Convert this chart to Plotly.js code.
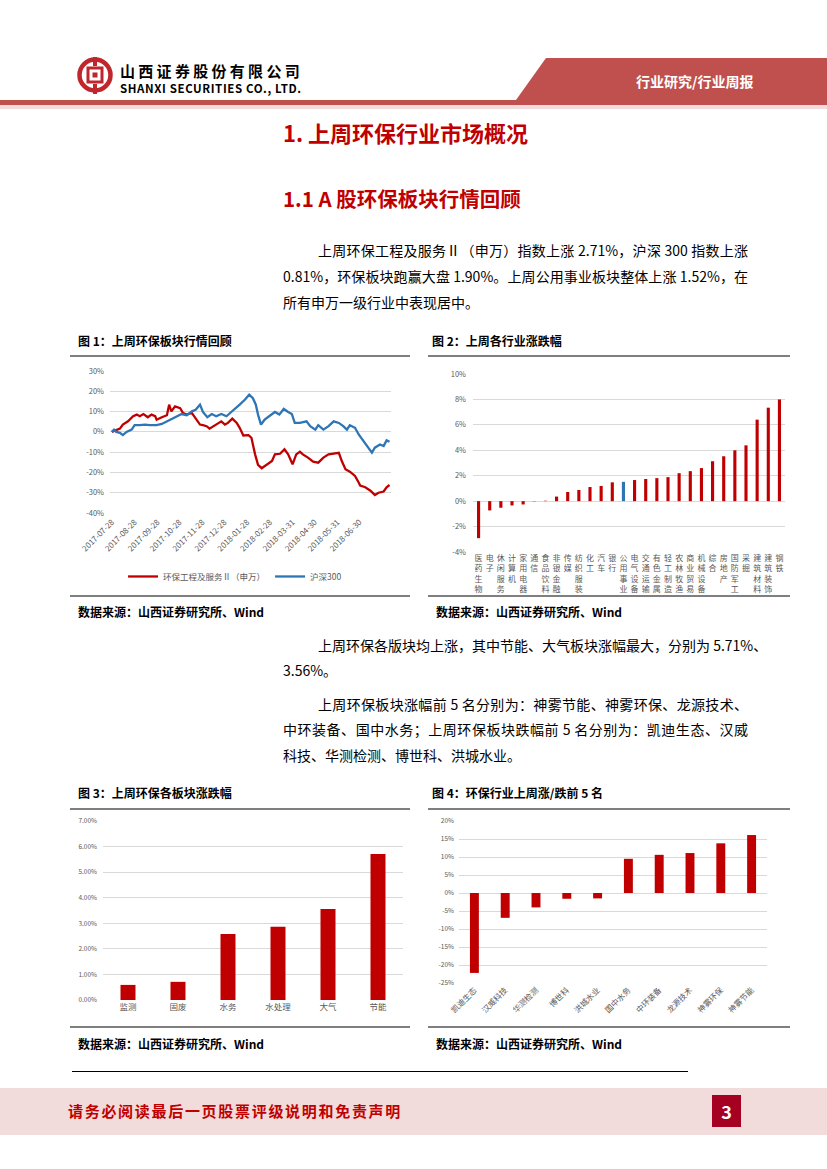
<!DOCTYPE html>
<html><head><meta charset="utf-8">
<script src="https://cdn.plot.ly/plotly-3.0.1.min.js"></script>
<style>
html,body{margin:0;padding:0;background:#fff;}
body{width:827px;height:1169px;position:relative;overflow:hidden;font-family:"Noto Sans CJK SC","Noto Sans",sans-serif;color:#000;}
.abs{position:absolute;white-space:nowrap;}
.p{position:absolute;font-size:14px;line-height:20px;height:20px;white-space:nowrap;}
.j{text-align:justify;text-align-last:justify;}
.cap{position:absolute;font-size:12px;line-height:16px;font-weight:bold;white-space:nowrap;}
.rule{position:absolute;height:2px;background:#7f7f7f;}
.chart{position:absolute;}
</style></head>
<body>
<!-- header -->
<svg class="abs" style="left:76px;top:56px;" width="40" height="40" viewBox="0 0 40 40">
  <circle cx="19" cy="19" r="15.5" fill="none" stroke="#c0272d" stroke-width="4.5"/>
  <rect x="12" y="12" width="14" height="14" fill="none" stroke="#c0272d" stroke-width="3"/>
  <rect x="16.5" y="16.5" width="5" height="5" fill="#c0272d"/>
  <rect x="17" y="1" width="4" height="9" fill="#c0272d"/>
  <rect x="17" y="28" width="4" height="10" fill="#c0272d"/>
</svg>
<div class="abs" style="left:120px;top:62px;font-size:15px;line-height:18px;font-weight:bold;letter-spacing:3.3px;">山西证券股份有限公司</div>
<div class="abs" style="left:120px;top:82px;font-size:11.5px;line-height:13px;font-weight:bold;letter-spacing:0.6px;">SHANXI SECURITIES CO., LTD.</div>
<svg class="abs" style="left:0;top:56px;" width="827" height="54">
  <polygon points="546,2 827,2 827,44 516,44" fill="#c0504d"/>
  <rect x="0" y="44" width="827" height="5" fill="#c0504d"/>
  <rect x="0" y="49" width="827" height="4" fill="#f2dcdb"/>
</svg>
<div class="abs" style="left:636px;top:71px;font-size:14px;line-height:20px;font-weight:bold;color:#fff;">行业研究/行业周报</div>

<!-- headings -->
<div class="abs" style="left:283px;top:118px;font-size:22px;line-height:28px;font-weight:bold;color:#c00000;">1.&nbsp;上周环保行业市场概况</div>
<div class="abs" style="left:283px;top:185px;font-size:20.5px;line-height:26px;font-weight:bold;color:#c00000;">1.1 A 股环保板块行情回顾</div>

<div class="p j" style="left:318px;top:240px;width:430px;">上周环保工程及服务Ⅱ（申万）指数上涨 2.71%，沪深 300 指数上涨</div>
<div class="p j" style="left:283px;top:266px;width:465px;">0.81%，环保板块跑赢大盘 1.90%。上周公用事业板块整体上涨 1.52%，在</div>
<div class="p" style="left:283px;top:292px;">所有申万一级行业中表现居中。</div>

<!-- figure 1 / 2 captions -->
<div class="cap" style="left:78px;top:333px;">图 1：上周环保板块行情回顾</div>
<div class="cap" style="left:432px;top:333px;">图 2：上周各行业涨跌幅</div>
<div class="rule" style="left:70px;top:355px;width:340px;"></div>
<div class="rule" style="left:428px;top:355px;width:362px;"></div>
<div class="rule" style="left:70px;top:595px;width:340px;"></div>
<div class="rule" style="left:428px;top:595px;width:362px;"></div>
<div class="cap" style="left:78px;top:604px;">数据来源：山西证券研究所、Wind</div>
<div class="cap" style="left:436px;top:604px;">数据来源：山西证券研究所、Wind</div>
<div id="c1" class="chart" style="left:70px;top:358px;width:340px;height:236px;"></div>
<div id="c2" class="chart" style="left:428px;top:358px;width:362px;height:236px;"></div>

<div class="p j" style="left:318px;top:635px;width:430px;">上周环保各版块均上涨，其中节能、大气板块涨幅最大，分别为 5.71%、</div>
<div class="p" style="left:283px;top:660px;">3.56%。</div>
<div class="p j" style="left:318px;top:694px;width:430px;">上周环保板块涨幅前 5 名分别为：神雾节能、神雾环保、龙源技术、</div>
<div class="p j" style="left:283px;top:719px;width:465px;">中环装备、国中水务；上周环保板块跌幅前 5 名分别为：凯迪生态、汉威</div>
<div class="p" style="left:283px;top:745px;">科技、华测检测、博世科、洪城水业。</div>

<div class="cap" style="left:78px;top:785px;">图 3：上周环保各板块涨跌幅</div>
<div class="cap" style="left:432px;top:785px;">图 4：环保行业上周涨/跌前 5 名</div>
<div class="rule" style="left:70px;top:808px;width:340px;"></div>
<div class="rule" style="left:428px;top:808px;width:362px;"></div>
<div class="rule" style="left:70px;top:1026px;width:340px;"></div>
<div class="rule" style="left:428px;top:1026px;width:362px;"></div>
<div class="cap" style="left:78px;top:1036px;">数据来源：山西证券研究所、Wind</div>
<div class="cap" style="left:436px;top:1036px;">数据来源：山西证券研究所、Wind</div>
<div id="c3" class="chart" style="left:70px;top:810px;width:340px;height:215px;"></div>
<div id="c4" class="chart" style="left:428px;top:810px;width:362px;height:215px;"></div>

<div class="abs" style="left:72px;top:1071px;width:616px;height:1px;background:#000;"></div>
<!-- footer -->
<div class="abs" style="left:0;top:1088px;width:827px;height:47px;background:#f2dcdb;"></div>
<div class="abs" style="left:68px;top:1101px;font-size:15px;line-height:20px;font-weight:bold;letter-spacing:1.7px;color:#c00000;">请务必阅读最后一页股票评级说明和免责声明</div>
<div class="abs" style="left:712px;top:1095px;width:29px;height:32px;background:#a50021;color:#fff;font-size:18px;font-weight:bold;line-height:32px;text-align:center;">3</div>

<script>
// ---------- data ----------
const redName = '环保工程及服务Ⅱ（申万）';
const blueName = '沪深300';
const redDates = ['2017-07-28','2017-08-08','2017-08-12','2017-08-19','2017-08-26','2017-08-31','2017-09-04','2017-09-09','2017-09-15','2017-09-20','2017-09-25','2017-09-27','2017-10-04','2017-10-11','2017-10-14','2017-10-17','2017-10-22','2017-10-29','2017-11-02','2017-11-07','2017-11-14','2017-11-20','2017-11-25','2017-11-29','2017-12-04','2017-12-08','2017-12-13','2017-12-17','2017-12-24','2017-12-29','2018-01-02','2018-01-08','2018-01-14','2018-01-18','2018-01-23','2018-01-30','2018-02-03','2018-02-08','2018-02-12','2018-02-17','2018-02-24','2018-03-03','2018-03-07','2018-03-14','2018-03-20','2018-03-25','2018-03-31','2018-04-05','2018-04-10','2018-04-14','2018-04-21','2018-04-28','2018-05-05','2018-05-12','2018-05-19','2018-05-26','2018-06-02','2018-06-06','2018-06-11','2018-06-17','2018-06-24','2018-06-29','2018-07-01','2018-07-08','2018-07-15','2018-07-21','2018-07-26','2018-08-02','2018-08-06','2018-08-10'];
const redVals = [0,1.6,3.6,5.2,7.7,8.5,7.7,8.8,7.2,8.5,7.7,6.0,7.2,8.2,13.4,10.1,12.6,11.7,9.3,8.5,9.3,6.0,3.6,3.3,2.8,1.6,2.8,3.6,5.2,3.6,4.4,6.5,4.4,2.0,-1.8,-1.6,-2.9,-11.1,-16.3,-17.9,-16.0,-14.4,-11.1,-10.8,-8.6,-11.1,-16.0,-11.1,-9.8,-11.1,-12.7,-14.7,-15.2,-12.7,-11.1,-10.8,-10.3,-14.4,-18.4,-19.6,-21.7,-25,-26.5,-27.3,-29,-31.1,-30,-29.4,-27.3,-26.2];
const blueDates = ['2017-07-28','2017-07-31','2017-08-03','2017-08-08','2017-08-12','2017-08-17','2017-08-24','2017-08-28','2017-09-04','2017-09-11','2017-09-18','2017-09-27','2017-10-04','2017-10-11','2017-10-17','2017-10-24','2017-10-31','2017-11-07','2017-11-14','2017-11-19','2017-11-25','2017-11-29','2017-12-05','2017-12-11','2017-12-17','2017-12-24','2017-12-31','2018-01-05','2018-01-12','2018-01-18','2018-01-25','2018-01-31','2018-02-05','2018-02-09','2018-02-12','2018-02-16','2018-02-21','2018-02-28','2018-03-07','2018-03-13','2018-03-19','2018-03-25','2018-03-30','2018-04-03','2018-04-10','2018-04-19','2018-04-24','2018-05-01','2018-05-05','2018-05-12','2018-05-19','2018-05-26','2018-06-02','2018-06-08','2018-06-13','2018-06-17','2018-06-24','2018-06-29','2018-07-06','2018-07-12','2018-07-17','2018-07-21','2018-07-28','2018-08-02','2018-08-06','2018-08-10'];
const blueVals = [0,1.1,0,-0.5,-1.6,0,1.1,3.3,3.3,3.6,3.3,3.3,3.9,5.2,6.0,7.7,8.8,8.2,10.1,10.9,13.4,9.8,7.2,8.8,7.7,8.8,7.7,9.3,11.4,13.4,15.8,18.3,16.6,13.4,8.5,3.6,6.0,7.7,9.8,8.5,11.3,9.8,8.8,4.4,4.4,5.2,2.8,1.1,3.3,1.1,2.8,5.2,4.4,2.8,1.1,3.3,2.0,-1.3,-4.6,-7.8,-10.3,-7.8,-6.2,-7.0,-4.2,-4.9];
const dateTicks = ['2017-07-28','2017-08-28','2017-09-28','2017-10-28','2017-11-28','2017-12-28','2018-01-28','2018-02-28','2018-03-31','2018-04-30','2018-05-31','2018-06-30'];
const pctTicks1 = [30,20,10,0,-10,-20,-30,-40];
const pctText1 = ['30%','20%','10%','0%','-10%','-20%','-30%','-40%'];

const cats2 = ['医药生物','电子','休闲服务','计算机','家用电器','通信','食品饮料','非银金融','传媒','纺织服装','化工','汽车','银行','公用事业','电气设备','交通运输','有色金属','轻工制造','农林牧渔','商业贸易','机械设备','综合','房地产','国防军工','采掘','建筑材料','建筑装饰','钢铁'];
const vals2 = [-2.91,-0.73,-0.52,-0.34,-0.26,-0.02,0.03,0.36,0.72,0.88,1.11,1.19,1.48,1.52,1.66,1.74,1.81,1.89,2.20,2.36,2.60,3.14,3.53,4.00,4.39,6.41,7.35,8.00];
const highlight2 = '公用事业';
const pctTicks2 = [10,8,6,4,2,0,-2,-4];
const pctText2 = ['10%','8%','6%','4%','2%','0%','-2%','-4%'];

const cats3 = ['监测','固废','水务','水处理','大气','节能'];
const vals3 = [0.59,0.71,2.58,2.86,3.56,5.71];
const pctTicks3 = [0,1,2,3,4,5,6,7];
const pctText3 = ['0.00%','1.00%','2.00%','3.00%','4.00%','5.00%','6.00%','7.00%'];

const cats4 = ['凯迪生态','汉威科技','华测检测','博世科','洪城水业','国中水务','中环装备','龙源技术','神雾环保','神雾节能'];
const vals4 = [-22.2,-6.9,-4.0,-1.6,-1.5,9.5,10.6,11.1,13.8,16.1];
const pctTicks4 = [20,15,10,5,0,-5,-10,-15,-20,-25];
const pctText4 = ['20%','15%','10%','5%','0%','-5%','-10%','-15%','-20%','-25%'];

// ---------- styles ----------
const RED = '#c00000', BLUE = '#2e75b6', GRID = '#d9d9d9', TXT = '#595959';
const FONT = '"Noto Sans CJK SC", "Noto Sans", sans-serif';
const cfg = {staticPlot:true, displayModeBar:false};
function yax(tv, tt, range, size, standoff){
  return {range:range, tickvals:tv, ticktext:tt, showgrid:true, gridcolor:GRID, gridwidth:1,
          zeroline:false, showline:false, ticks:'', ticklabelstandoff:standoff,
          tickfont:{size:size, color:TXT, family:FONT}, fixedrange:true};
}
function base(w, h, m){
  return {width:w, height:h, margin:Object.assign({autoexpand:false}, m),
          paper_bgcolor:'rgba(0,0,0,0)', plot_bgcolor:'rgba(0,0,0,0)',
          font:{family:FONT, color:TXT}};
}

// chart 1
Plotly.newPlot('c1', [
  {type:'scatter', mode:'lines', name:redName, x:redDates, y:redVals, line:{color:RED, width:2.3}},
  {type:'scatter', mode:'lines', name:blueName, x:blueDates, y:blueVals, line:{color:BLUE, width:2.3}}
], Object.assign(base(340, 236, {l:40, r:19, t:13, b:81}), {
  xaxis:{type:'date', range:['2017-07-25 12:00','2018-08-12'], tickvals:dateTicks, ticktext:dateTicks,
         tickangle:-45, showgrid:false, zeroline:false, showline:false, ticks:'', ticklabelstandoff:2,
         tickfont:{size:8, color:TXT, family:FONT}},
  yaxis:yax(pctTicks1, pctText1, [-40,30], 7.5, 5),
  showlegend:true,
  legend:{orientation:'h', x:0.445, xanchor:'center', y:-0.447, yanchor:'middle', font:{size:8.5, color:TXT, family:FONT},
          itemwidth:30, bgcolor:'rgba(0,0,0,0)'}
}), cfg);

// chart 2
Plotly.newPlot('c2', [{
  type:'bar', x:cats2, y:vals2, marker:{color:cats2.map(c => c === highlight2 ? BLUE : RED)}
}], Object.assign(base(362, 236, {l:45, r:5, t:16, b:42}), {
  bargap:0.72, showlegend:false,
  xaxis:{type:'category', tickvals:cats2, ticktext:cats2.map(c => c.split('').join('<br>')), tickangle:0,
         showgrid:false, zeroline:false, showline:false, ticks:'', tickfont:{size:8, color:TXT, family:FONT}},
  yaxis:yax(pctTicks2, pctText2, [-4,10], 7.5, 6)
}), cfg);

// chart 3
Plotly.newPlot('c3', [{
  type:'bar', x:cats3, y:vals3, marker:{color:RED}
}], Object.assign(base(340, 215, {l:33, r:7, t:11, b:25}), {
  bargap:0.7, showlegend:false,
  xaxis:{type:'category', showgrid:false, zeroline:false, showline:false, ticks:'', tickfont:{size:8.5, color:TXT, family:FONT}},
  yaxis:yax(pctTicks3, pctText3, [0,7], 6.5, 5)
}), cfg);

// chart 4
Plotly.newPlot('c4', [{
  type:'bar', x:cats4, y:vals4, marker:{color:RED}
}], Object.assign(base(362, 215, {l:31, r:23, t:11, b:42}), {
  bargap:0.71, showlegend:false,
  xaxis:{type:'category', tickangle:-45, showgrid:false, zeroline:false, showline:false, ticks:'', tickfont:{size:8, color:TXT, family:FONT}},
  yaxis:yax(pctTicks4, pctText4, [-25,20], 6.5, 4)
}), cfg);
</script>
</body></html>
